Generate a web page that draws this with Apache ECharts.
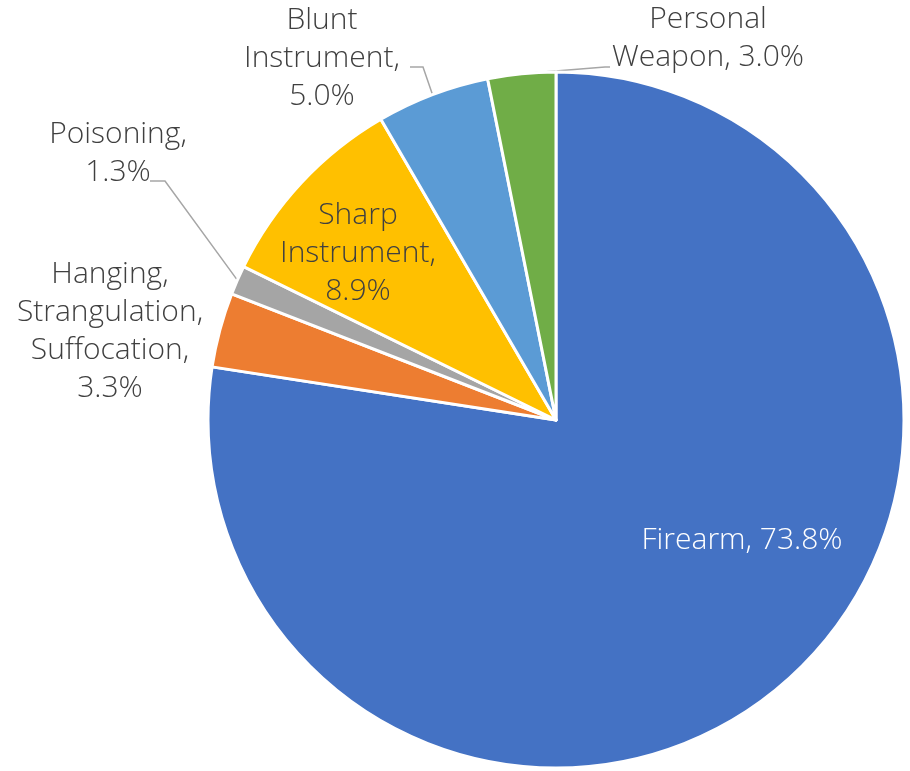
<!DOCTYPE html>
<html><head><meta charset="utf-8">
<script src="https://cdn.jsdelivr.net/npm/echarts@6/dist/echarts.min.js"></script>
<style>html,body{margin:0;padding:0;background:#fff}#c{width:910px;height:771px}</style>
</head><body><div id="c"></div>
<script>
const categories = ['Firearm', 'Hanging,\nStrangulation,\nSuffocation', 'Poisoning', 'Sharp\nInstrument', 'Blunt\nInstrument', 'Personal\nWeapon'];
const values = [73.8, 3.3, 1.3, 8.9, 5.0, 3.0];
const labelTexts = ['Firearm, 73.8%', 'Hanging,\nStrangulation,\nSuffocation,\n3.3%', 'Poisoning,\n1.3%', 'Sharp\nInstrument,\n8.9%', 'Blunt\nInstrument,\n5.0%', 'Personal\nWeapon, 3.0%'];
const colors = ['#4472C4', '#ED7D31', '#A5A5A5', '#FFC000', '#5B9BD5', '#70AD47'];
const labelCenters = [[742, 540], [110, 331], [118, 153], [358, 253], [322, 58], [708, 38]];
// leader line elbow/end offsets relative to label centre
const lineOffsets = [null, null, [[47, 28], [32, 28]], null, [[101, 9], [88, 9]], [[-103, 29], [-98, 29]]];
const insideLabel = [true, false, false, true, false, false];
const showLine = [false, false, true, false, true, true];

const chart = echarts.init(document.getElementById('c'), null, {renderer: 'canvas'});
chart.setOption({
  animation: false,
  series: [{
    type: 'pie',
    center: [556, 420],
    radius: 348,
    startAngle: 90,
    clockwise: true,
    avoidLabelOverlap: false,
    itemStyle: {borderColor: '#fff', borderWidth: 3},
    label: {
      fontFamily: 'Open Sans', fontWeight: 300, fontSize: 30, lineHeight: 38,
      color: '#404040', align: 'center'
    },
    labelLine: {lineStyle: {color: '#A6A6A6', width: 1.5}, length: 20, length2: 15},
    labelLayout: function (p) {
      const i = p.dataIndex;
      const c = labelCenters[i];
      const out = {x: c[0], y: c[1], align: 'center', verticalAlign: 'middle'};
      const off = lineOffsets[i];
      if (off && p.labelLinePoints && p.labelLinePoints.length) {
        const a = p.labelLinePoints[0];
        out.labelLinePoints = [
          [a[0], a[1]],
          [c[0] + off[0][0], c[1] + off[0][1]],
          [c[0] + off[1][0], c[1] + off[1][1]]
        ];
      }
      return out;
    },
    data: categories.map((name, i) => ({
      name: name,
      value: values[i],
      itemStyle: {color: colors[i]},
      label: {
        show: true,
        formatter: labelTexts[i],
        position: insideLabel[i] ? 'inside' : 'outside',
        color: i === 0 ? '#ffffff' : '#404040'
      },
      labelLine: {show: showLine[i]}
    }))
  }]
});
</script></body></html>
